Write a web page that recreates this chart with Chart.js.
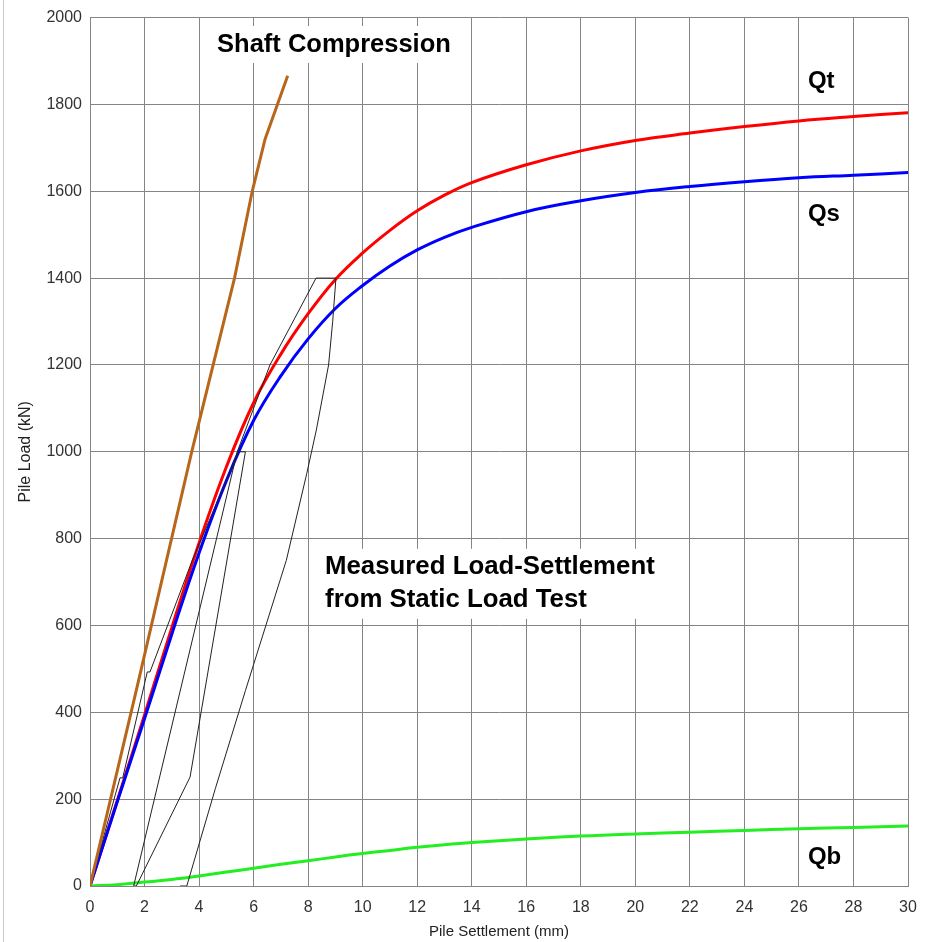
<!DOCTYPE html>
<html>
<head>
<meta charset="utf-8">
<script src="https://cdn.jsdelivr.net/npm/chart.js@4.4.1/dist/chart.umd.min.js"></script>
<style>
  body { margin: 0; background: #fff; }
  #wrap { position: relative; width: 935px; height: 942px; }
  #edge { position: absolute; left: 3px; top: 0; width: 1px; height: 942px; background: #cfcbc3; }
</style>
</head>
<body>
<div id="wrap">
  <canvas id="myChart"></canvas>
  <div id="edge"></div>
</div>
<script>
// settlement points (mm) where the fitted curves were read
const settle = [0, 1, 2, 3, 4, 5, 6, 7, 8, 9, 10, 11, 12, 13, 14, 16, 18, 20, 22, 24, 26, 28, 30];
const qtLoad = [0, 197, 394, 595, 790, 965, 1113, 1225, 1318, 1397, 1458, 1510, 1555, 1591, 1620, 1661, 1693, 1717, 1734, 1749, 1762, 1772, 1781];
const qsLoad = [0, 194, 385, 580, 767, 933, 1072, 1175, 1260, 1330, 1383, 1428, 1465, 1494, 1517, 1553, 1578, 1597, 1611, 1622, 1631, 1637, 1643];
const qbLoad = [0, 3, 9, 15, 23, 32, 41, 50, 58, 67, 75, 82, 89, 95, 100, 108, 115, 120, 124, 128, 132, 135, 138];

// elastic shaft compression line
const shaftSettle = [0, 1.7, 3.73, 5.3, 5.95, 6.42, 7.25];
const shaftLoad = [0, 451, 1000, 1400, 1600, 1720, 1866];

// static load test: load to 1000, unload, reload to 1400, unload
const testSettle = [0, 1.1, 1.2, 2.1, 2.2, 3.75, 5.45, 5.7, 3.67, 1.7, 1.6, 5.4, 6.6, 8.29, 9.02, 8.9, 8.75, 8.3, 7.95, 7.2, 6.45, 5.7, 4.6, 3.55, 3.3];
const testLoad = [0, 249, 249, 493, 493, 750, 1000, 1000, 251, 0, 0, 1000, 1200, 1400, 1400, 1300, 1200, 1050, 950, 750, 600, 450, 225, 0, 0];

const xTicks = [0, 2, 4, 6, 8, 10, 12, 14, 16, 18, 20, 22, 24, 26, 28, 30];
const yTicks = [0, 200, 400, 600, 800, 1000, 1200, 1400, 1600, 1800, 2000];

// text notes placed in data units (mm, kN)
const notes = [
  { lines: ['Shaft Compression'], s: 4.66, load: 1938, size: 25.5 },
  { lines: ['Qt'], s: 26.33, load: 1852, size: 24 },
  { lines: ['Qs'], s: 26.33, load: 1547, size: 24 },
  { lines: ['Qb'], s: 26.33, load: 65, size: 24 },
  { lines: ['Measured Load-Settlement', 'from Static Load Test'], s: 8.62, load: 734, size: 25.8 }
];

let pts = (xs, ys) => xs.map((x, i) => ({ x: x, y: ys[i] }));

const notePlugin = {
  id: 'notes',
  beforeDatasetsDraw(chart) {
    const ctx = chart.ctx;
    const sx = chart.scales.x;
    const sy = chart.scales.y;
    ctx.save();
    notes.forEach((n) => {
      ctx.font = 'bold ' + n.size + 'px "Liberation Sans", Arial, sans-serif';
      ctx.textAlign = 'left';
      ctx.textBaseline = 'middle';
      const x = sx.getPixelForValue(n.s);
      const y = sy.getPixelForValue(n.load);
      const lh = 33;
      let w = 0;
      n.lines.forEach((t) => { w = Math.max(w, ctx.measureText(t).width); });
      ctx.fillStyle = '#fff';
      ctx.fillRect(x - 4, y - lh / 2 - 2, w + 8, lh * n.lines.length + 4);
      ctx.fillStyle = '#000';
      n.lines.forEach((t, i) => ctx.fillText(t, x, y + i * lh));
    });
    ctx.restore();
  }
};

const gridColor = '#858585';
const tickFont = { family: '"Liberation Sans", Arial, sans-serif', size: 16 };

const ctx = document.getElementById('myChart');
const chart = new Chart(ctx, {
  type: 'scatter',
  data: {
    datasets: [
      { label: 'Shaft Compression', data: pts(shaftSettle, shaftLoad), borderColor: '#b8661a', borderWidth: 3, tension: 0 },
      { label: 'Measured', data: pts(testSettle, testLoad), borderColor: '#222', borderWidth: 1, tension: 0 },
      { label: 'Qb', data: pts(settle, qbLoad), borderColor: '#22ee22', borderWidth: 3, tension: 0.4 },
      { label: 'Qs', data: pts(settle, qsLoad), borderColor: '#0000ff', borderWidth: 3, tension: 0.4 },
      { label: 'Qt', data: pts(settle, qtLoad), borderColor: '#ff0000', borderWidth: 3, tension: 0.4 }
    ]
  },
  options: {
    responsive: true,
    maintainAspectRatio: false,
    animation: false,
    showLine: true,
    elements: { point: { radius: 0 } },
    layout: { padding: { top: 17, right: 27, left: 0, bottom: 0 } },
    plugins: { legend: { display: false }, tooltip: { enabled: false } },
    scales: {
      x: {
        type: 'linear',
        min: 0,
        max: 30,
        afterBuildTicks: (s) => { s.ticks = xTicks.map((v) => ({ value: v })); },
        afterFit: (s) => { s.height = 56; },
        ticks: { font: tickFont, color: '#333', padding: 12, maxRotation: 0, callback: (v) => String(v) },
        grid: { color: gridColor, drawTicks: false },
        border: { color: gridColor },
        title: { display: true, text: 'Pile Settlement (mm)', color: '#222', font: { family: '"Liberation Sans", Arial, sans-serif', size: 15 }, padding: { top: 0, bottom: 1 } }
      },
      y: {
        type: 'linear',
        min: 0,
        max: 2000,
        afterBuildTicks: (s) => { s.ticks = yTicks.map((v) => ({ value: v })); },
        afterFit: (s) => { s.width = 90; },
        ticks: { font: tickFont, color: '#333', padding: 8, callback: (v) => String(v) },
        grid: { color: gridColor, drawTicks: false },
        border: { color: gridColor },
        title: { display: true, text: 'Pile Load (kN)', color: '#222', font: { family: '"Liberation Sans", Arial, sans-serif', size: 16 }, padding: { top: 16, bottom: 0 } }
      }
    }
  },
  plugins: [notePlugin]
});
</script>
</body>
</html>
